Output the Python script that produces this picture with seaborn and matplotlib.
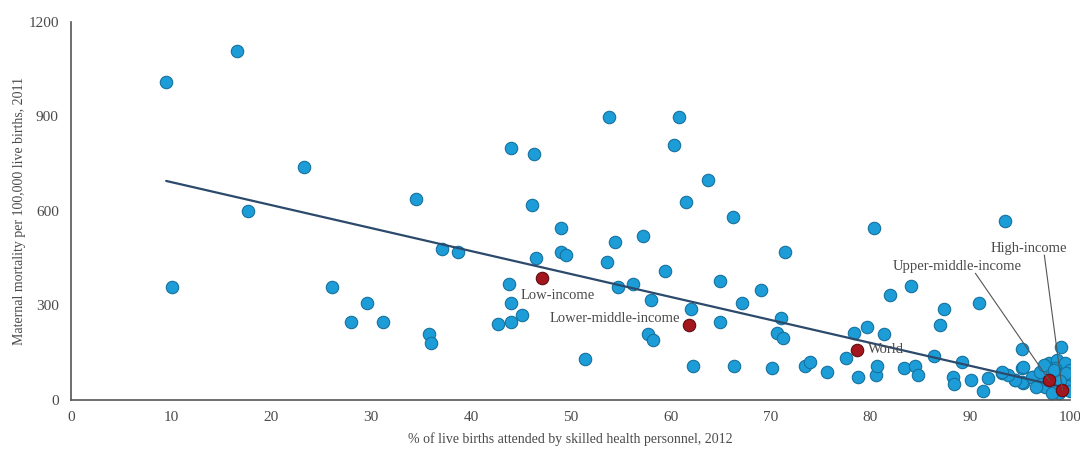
import matplotlib
matplotlib.use("Agg")
import matplotlib.pyplot as plt
import seaborn as sns
import numpy as np
import pandas as pd

# Countries: % births attended by skilled personnel (2012) vs maternal mortality (2011)
skilled_pct = [
    9.5, 16.6, 23.3, 17.7, 10.1, 26.1, 28.0, 29.6, 31.2,
    34.5, 37.1, 38.7, 35.8, 36.0,
    44.0, 46.3, 46.1, 46.5, 43.8, 44.0, 45.1, 44.0, 42.7,
    53.8, 60.8, 60.3, 63.7, 61.5, 49.0, 54.4, 57.2, 49.0, 49.5, 53.6, 59.4,
    54.7, 56.2, 58.0, 64.9, 62.0, 64.9, 57.7, 58.2, 51.4, 62.2,
    66.2, 71.4, 69.0, 67.1, 71.0, 70.6, 71.2, 66.3, 70.1, 73.4, 73.9, 75.6,
    77.5, 78.4, 79.7, 81.4, 80.4, 78.8, 80.6, 80.7, 82.0, 84.1, 83.4, 84.5,
    84.8, 86.4, 87.4, 87.0, 88.3, 88.4, 89.2, 90.1, 90.9, 91.3, 91.8, 93.5,
    93.2, 94.5, 95.2, 95.2, 95.3, 96.3, 99.1,
    97.9, 98.7, 99.5, 100.0, 100.0, 98.2, 99.2, 99.5, 97.5, 96.9, 98.9, 98.2,
    95.2, 94.5, 95.3, 96.2, 93.8, 93.2, 98.5, 99.8, 97.0, 99.6, 98.8, 100.0,
    97.4, 99.0, 96.6, 98.4,
]
mortality = [
    1010, 1108, 740, 600, 358, 358, 248, 309, 249,
    638, 478, 469, 210, 180,
    801, 779, 620, 450, 368, 309, 270, 249, 240,
    897, 897, 808, 699, 629, 546, 500, 520, 469, 459, 438, 410,
    359, 369, 318, 378, 289, 249, 210, 190, 129, 109,
    580, 469, 349, 309, 259, 212, 198, 109, 102, 109, 120, 89,
    134, 211, 230, 210, 547, 74, 79, 109, 332, 362, 102, 109,
    79, 140, 290, 238, 74, 51, 121, 62, 309, 30, 70, 569,
    85, 62, 161, 102, 53, 74, 169,
    116, 127, 116, 95, 63, 85, 74, 37, 42, 63, 21, 21,
    58, 63, 106, 74, 79, 90, 100, 45, 90, 85, 55, 30,
    110, 60, 40, 95,
]

# Income-group aggregates
group_names = ["Low-income", "Lower-middle-income", "World",
               "Upper-middle-income", "High-income"]
group_pct = [47.1, 61.8, 78.7, 97.9, 99.2]
group_mortality = [386, 238, 157, 62, 32]

# linear trend line as drawn in the source
trend_x = [9.5, 99.5]
trend_y = [695, 39]

# label anchor points (data units)
label_x = [45.0, 60.9, 79.8, 82.2, 92.0]
label_y = [333, 259, 159, 423, 482]
label_ha = ["left", "right", "left", "left", "left"]
leader_from_x = [None, None, None, 90.5, 97.4]
leader_from_y = [None, None, None, 402, 460]

blue = "#1c9dd8"
blue_edge = "#16719e"
red = "#a3161e"
red_edge = "#5e0c10"
line_col = "#2c4a6b"
text_col = "#4a4a4a"

countries = pd.DataFrame({"skilled": skilled_pct, "mmr": mortality})
groups = pd.DataFrame({"name": group_names, "skilled": group_pct, "mmr": group_mortality})
trend = pd.DataFrame({"skilled": trend_x, "mmr": trend_y})

sns.set_style("white")
plt.rcParams["font.family"] = ["Liberation Serif", "DejaVu Serif"]

fig = plt.figure(figsize=(10.8, 4.54), dpi=100)
ax = fig.add_axes([0.066, 0.119, 0.925, 0.833])

sns.scatterplot(data=countries, x="skilled", y="mmr", ax=ax, s=80,
                color=blue, edgecolor=blue_edge, linewidth=0.8, zorder=2)
sns.lineplot(data=trend, x="skilled", y="mmr", ax=ax, color=line_col, lw=1.6, zorder=3)
sns.scatterplot(data=groups, x="skilled", y="mmr", ax=ax, s=80,
                color=red, edgecolor=red_edge, linewidth=0.8, zorder=4)

for i, name in enumerate(group_names):
    ax.text(label_x[i], label_y[i], name, ha=label_ha[i], va="center",
            fontsize=10.5, color=text_col, zorder=5)
    if leader_from_x[i] is not None:
        ax.plot([leader_from_x[i], group_pct[i]], [leader_from_y[i], group_mortality[i]],
                color="#555555", lw=0.8, zorder=5)

ax.set_xlim(0, 100)
ax.set_ylim(0, 1200)
ax.set_xticks(np.arange(0, 101, 10))
ax.set_yticks([0, 300, 600, 900, 1200])
ax.tick_params(axis="both", length=0, labelsize=11, colors=text_col)
ax.tick_params(axis="x", pad=8)
ax.tick_params(axis="y", pad=9)
ax.set_xlabel("% of live births attended by skilled health personnel, 2012",
              fontsize=10, color=text_col, labelpad=6)
ax.set_ylabel("Maternal mortality per 100,000 live births, 2011",
              fontsize=10, color=text_col, labelpad=2)

sns.despine(ax=ax)
for side in ["left", "bottom"]:
    ax.spines[side].set_color("#555555")
    ax.spines[side].set_linewidth(1.2)

fig.savefig("out.png", dpi=100)
